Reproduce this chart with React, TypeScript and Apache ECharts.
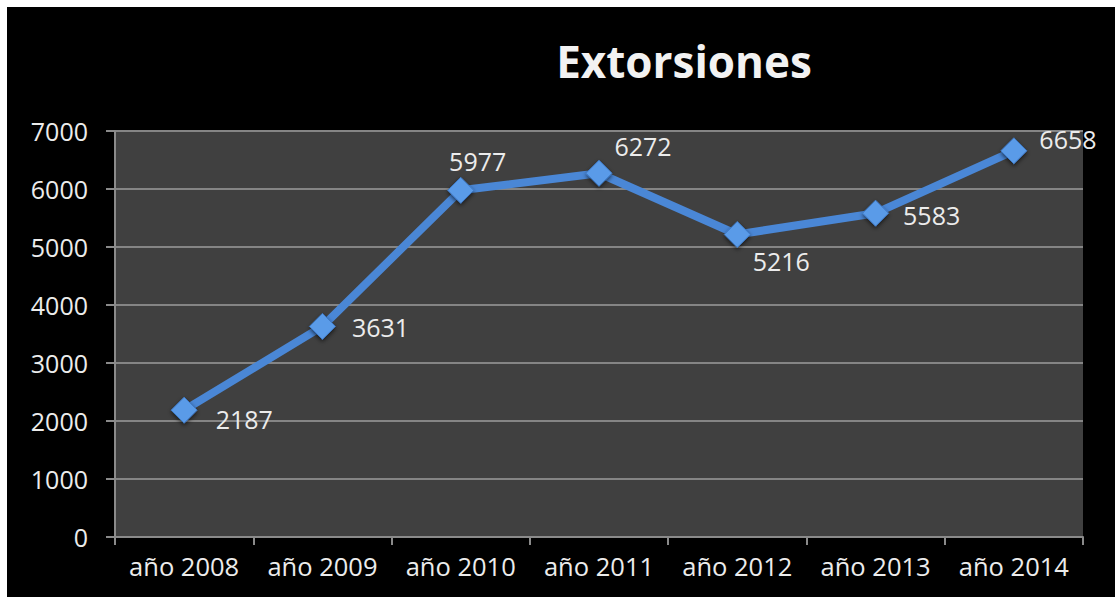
import React, { useEffect, useRef } from "react";
import * as echarts from "echarts";

const categories = ["año 2008", "año 2009", "año 2010", "año 2011", "año 2012", "año 2013", "año 2014"];
const values = [2187, 3631, 5977, 6272, 5216, 5583, 6658];
const yTicks = [0, 1000, 2000, 3000, 4000, 5000, 6000, 7000];
const title = "Extorsiones";

// label placement per point (style only)
const labelPlacement: { position: string; offset: [number, number] }[] = [
  { position: "right", offset: [13, 9] },
  { position: "right", offset: [11, 1] },
  { position: "top", offset: [17, 2] },
  { position: "top", offset: [44, 4] },
  { position: "bottom", offset: [44, -4] },
  { position: "right", offset: [9, 2] },
  { position: "right", offset: [7, -12] },
];

export default function App() {
  const ref = useRef<HTMLDivElement>(null);
  useEffect(() => {
    if (!ref.current) return;
    const chart = echarts.init(ref.current, null, { renderer: "svg" });
    const font = "'Open Sans', sans-serif";
    chart.setOption({
      animation: false,
      backgroundColor: "#000000",
      title: {
        text: title,
        left: 672,
        top: 27,
        textAlign: "center",
        textStyle: { color: "#f2f2f2", fontSize: 44, fontWeight: "bold", fontFamily: font },
      },
      grid: {
        left: 108,
        right: 32,
        top: 124,
        bottom: 60,
        show: true,
        backgroundColor: "#404040",
        borderWidth: 0,
      },
      xAxis: {
        type: "category",
        data: categories,
        boundaryGap: true,
        axisLine: { show: true, lineStyle: { color: "#8a8a8a", width: 2 } },
        axisTick: { show: true, interval: 0, length: 8, lineStyle: { color: "#8a8a8a", width: 2 } },
        axisLabel: { color: "#ececec", fontSize: 25.5, fontFamily: font, margin: 16, interval: 0 },
        splitLine: { show: false },
      },
      yAxis: {
        type: "value",
        min: yTicks[0],
        max: yTicks[yTicks.length - 1],
        interval: 1000,
        axisLine: { show: true, lineStyle: { color: "#8a8a8a", width: 2 } },
        axisTick: { show: true, length: 9, lineStyle: { color: "#8a8a8a", width: 2 } },
        axisLabel: {
          color: "#ececec",
          fontSize: 25,
          fontFamily: font,
          margin: 27,
          formatter: (v: number) => String(v),
        },
        splitLine: { show: true, lineStyle: { color: "#858585", width: 2 } },
      },
      series: [
        {
          type: "line",
          data: values.map((v, i) => ({
            value: v,
            label: {
              show: true,
              position: labelPlacement[i].position,
              offset: labelPlacement[i].offset,
            },
          })),
          lineStyle: { color: "#4a87d6", width: 8 },
          symbol: "diamond",
          symbolSize: 26,
          itemStyle: {
            color: "#5a9be8",
            borderColor: "#3f7ac6",
            borderWidth: 1,
            shadowColor: "rgba(0,0,0,0.6)",
            shadowBlur: 4,
            shadowOffsetY: 2,
          },
          label: {
            color: "#ececec",
            fontSize: 25,
            fontFamily: font,
          },
          z: 3,
        },
      ],
    });
    return () => chart.dispose();
  }, []);
  return (
    <div style={{ position: "fixed", left: 0, top: 0, width: 1115, height: 603, background: "#ffffff" }}>
      <div ref={ref} style={{ position: "absolute", left: 7, top: 7, width: 1108, height: 590 }} />
    </div>
  );
}
